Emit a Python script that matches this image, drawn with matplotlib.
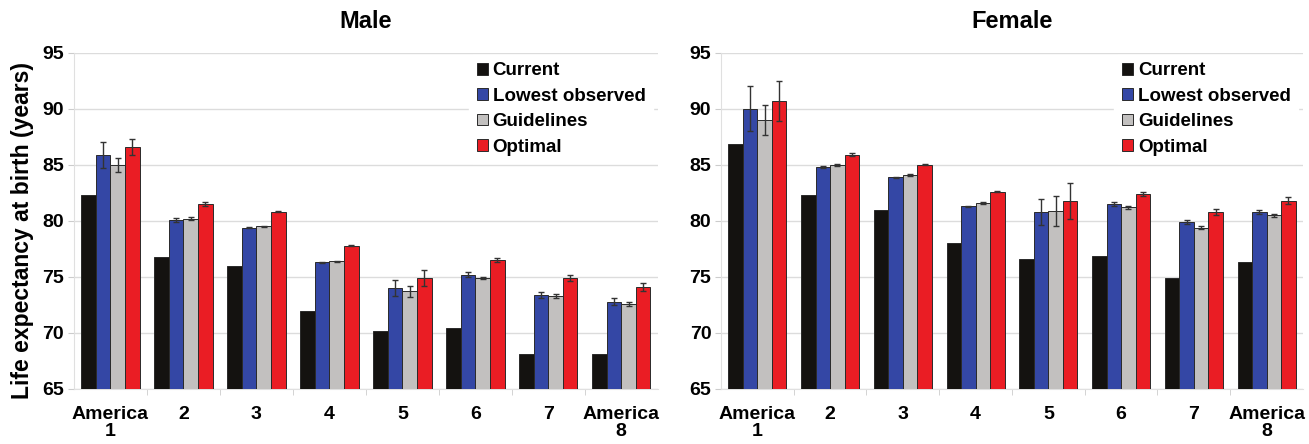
import numpy as np
import matplotlib
matplotlib.use("Agg")
import matplotlib.pyplot as plt

# Data
groups = ["America\n1", "2", "3", "4", "5", "6", "7", "America\n8"]
series = ["Current", "Lowest observed", "Guidelines", "Optimal"]
colors = ["#141210", "#3447a5", "#c2c0bf", "#ea1d24"]

male_current = [82.3, 76.8, 76.0, 72.0, 70.2, 70.4, 68.1, 68.1]
male_lowest = [85.9, 80.1, 79.4, 76.3, 74.0, 75.2, 73.4, 72.8]
male_guide = [85.0, 80.2, 79.5, 76.4, 73.7, 74.9, 73.3, 72.6]
male_optimal = [86.6, 81.5, 80.8, 77.8, 74.9, 76.5, 74.9, 74.1]
male_lowest_err = [1.15, 0.2, 0.05, 0.05, 0.7, 0.2, 0.25, 0.35]
male_guide_err = [0.6, 0.15, 0.05, 0.05, 0.45, 0.1, 0.2, 0.2]
male_optimal_err = [0.7, 0.15, 0.05, 0.05, 0.7, 0.15, 0.3, 0.35]

female_current = [86.9, 82.3, 81.0, 78.0, 76.6, 76.9, 74.9, 76.3]
female_lowest = [90.0, 84.8, 83.9, 81.3, 80.8, 81.5, 79.9, 80.8]
female_guide = [89.0, 85.0, 84.1, 81.6, 80.9, 81.2, 79.4, 80.5]
female_optimal = [90.7, 85.9, 85.0, 82.6, 81.8, 82.4, 80.8, 81.8]
female_lowest_err = [2.0, 0.1, 0.05, 0.05, 1.15, 0.15, 0.2, 0.2]
female_guide_err = [1.35, 0.1, 0.05, 0.05, 1.35, 0.15, 0.15, 0.15]
female_optimal_err = [1.8, 0.15, 0.05, 0.05, 1.6, 0.2, 0.3, 0.3]

panels = [
    ("Male", [male_current, male_lowest, male_guide, male_optimal],
     [None, male_lowest_err, male_guide_err, male_optimal_err]),
    ("Female", [female_current, female_lowest, female_guide, female_optimal],
     [None, female_lowest_err, female_guide_err, female_optimal_err]),
]

plt.rcParams['font.family'] = ['Liberation Sans', 'DejaVu Sans']
plt.rcParams['font.weight'] = 'bold'

fig = plt.figure(figsize=(13.09, 4.44), dpi=100)
positions = [[0.0565, 0.124, 0.446, 0.757], [0.5508, 0.124, 0.4446, 0.757]]

x = np.arange(len(groups))
width = 0.2

for pos, (title, vals, errs) in zip(positions, panels):
    ax = fig.add_axes(pos)
    for i, (name, v, e, c) in enumerate(zip(series, vals, errs, colors)):
        offs = (i - 1.5) * width
        ax.bar(x + offs, np.array(v) - 65, width, bottom=65, color=c,
               edgecolor="#2a2a2a", linewidth=0.7, label=name, zorder=3)
        if e is not None:
            ax.errorbar(x + offs, v, yerr=e, fmt="none", ecolor="#333333",
                        elinewidth=1.0, capsize=2.5, capthick=1.0, zorder=4)
    ax.set_ylim(65, 95)
    ax.set_xlim(-0.5, len(groups) - 0.5)
    ax.set_yticks(np.arange(65, 96, 5))
    ax.set_xticks(x)
    ax.set_xticklabels(groups, fontsize=14, fontweight='bold', linespacing=1.0)
    ax.set_xticks(np.arange(0.5, len(groups) - 0.5, 1), minor=True)
    ax.tick_params(axis='x', which='major', length=0, pad=12)
    ax.tick_params(axis='x', which='minor', length=4, color="#cccccc")
    ax.tick_params(axis='y', length=4, color="#cccccc", labelsize=14, pad=3)
    for lab in ax.get_yticklabels():
        lab.set_fontweight('bold')
    ax.grid(axis='y', color="#dcdcdc", linewidth=1.0, zorder=0)
    ax.set_axisbelow(True)
    for s in ["top", "right"]:
        ax.spines[s].set_visible(False)
    for s in ["left", "bottom"]:
        ax.spines[s].set_color("#e0e0e0")
    ax.set_title(title, fontsize=17, fontweight='bold', pad=18)
    leg = ax.legend(loc="upper right", bbox_to_anchor=(0.995, 1.0), frameon=True,
                    fontsize=13.5, handlelength=0.6, handleheight=0.6,
                    handletextpad=0.25, labelspacing=0.45, borderaxespad=0.1)
    leg.get_frame().set_edgecolor("white")
    leg.get_frame().set_facecolor("white")
    leg.get_frame().set_alpha(1.0)
    for t in leg.get_texts():
        t.set_fontweight('bold')
    if title == "Male":
        ax.set_ylabel("Life expectancy at birth (years)", fontsize=16.5,
                      fontweight='bold', labelpad=6, y=0.47)

fig.savefig("out.png", dpi=100)
